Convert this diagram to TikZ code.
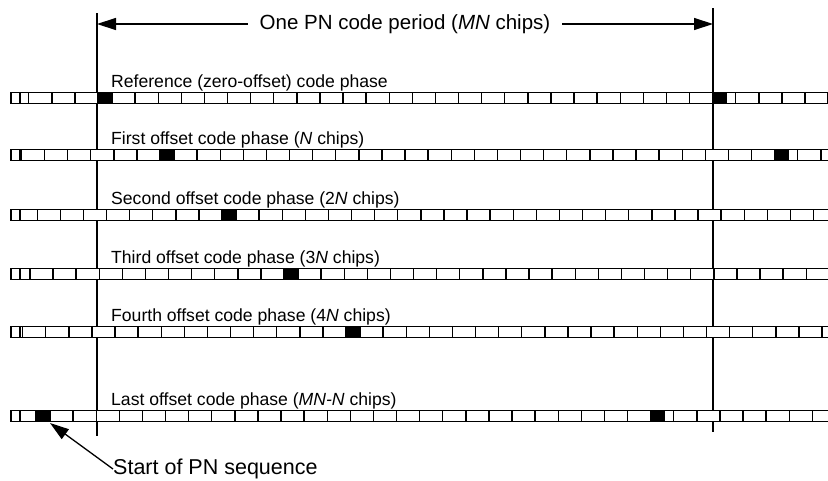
\documentclass[tikz,border=0pt]{standalone}
\usepackage{fontspec}
\setmainfont{Liberation Sans}
\usetikzlibrary{arrows.meta}

\begin{document}
\begin{tikzpicture}[
    x=1pt, y=-1pt,
    phase/.style={
        anchor=base west,
        inner sep=0pt,
        font=\fontsize{17.6}{20}\selectfont
    },
    marker/.style={draw=black, line width=1.3pt},
    span/.style={-{Triangle[length=19pt,width=12pt]}, line width=1.3pt, draw=black},
    strip/.style={draw=black, line width=1.8pt},
    divider/.style={draw=black, line width=1.4pt}
]
\clip (0,0) rectangle (828,480);

% period markers
\coordinate (lt) at (97,13);
\coordinate (lb) at (97,436);
\coordinate (rt) at (713,8);
\coordinate (rb) at (713,432);
\draw[marker] (lt) -- (lb);
\draw[marker] (rt) -- (rb);

\node[font=\fontsize{20.5}{24}\selectfont, inner xsep=12pt, inner ysep=0pt] (period) at (405,24)
    {One PN code period (\textit{MN} chips)};
\draw[span] (period.west) -- (period.west -| lt);
\draw[span] (period.east) -- (period.east -| rt);

% chip strips, one per code phase
\foreach \yc/\bx/\name/\txt in {
    98/98/ref/{Reference (zero-offset) code phase},
    155/160/first/{First offset code phase (\textit{N} chips)},
    215/222/second/{Second offset code phase (2\textit{N} chips)},
    274/284/third/{Third offset code phase (3\textit{N} chips)},
    332/346/fourth/{Fourth offset code phase (4\textit{N} chips)},
    416/36/last/{Last offset code phase (\textit{MN-N} chips)}} {
    \fill[white] (11,\yc-5.5) rectangle (840,\yc+5.5);
    \begin{scope}
        \clip (20,\yc-5.5) rectangle (840,\yc+5.5);
        \foreach \o in {0,615}
            \fill[black] (\bx+\o,\yc-5.5) rectangle ++(14,11);
        \foreach \k in {0,...,36} {
            \draw[divider] (\bx+14+\k*23.1,\yc-5.5) -- ++(0,11);
            \draw[divider] (\bx-\k*23.1,\yc-5.5) -- ++(0,11);
        }
    \end{scope}
    \draw[divider] (20,\yc-5.5) -- ++(0,11);
    \draw[strip] (11,\yc-5.5) rectangle (840,\yc+5.5);
    \node[phase] (\name) at (111,\yc-11) {\txt};
}

\coordinate (firstchip) at (50,423);
\node[anchor=west, inner sep=0pt, font=\fontsize{21.5}{25}\selectfont] (pnstart) at (113,469)
    {Start of PN sequence};
\draw[span] (pnstart.west) -- (firstchip);
\end{tikzpicture}
\end{document}
